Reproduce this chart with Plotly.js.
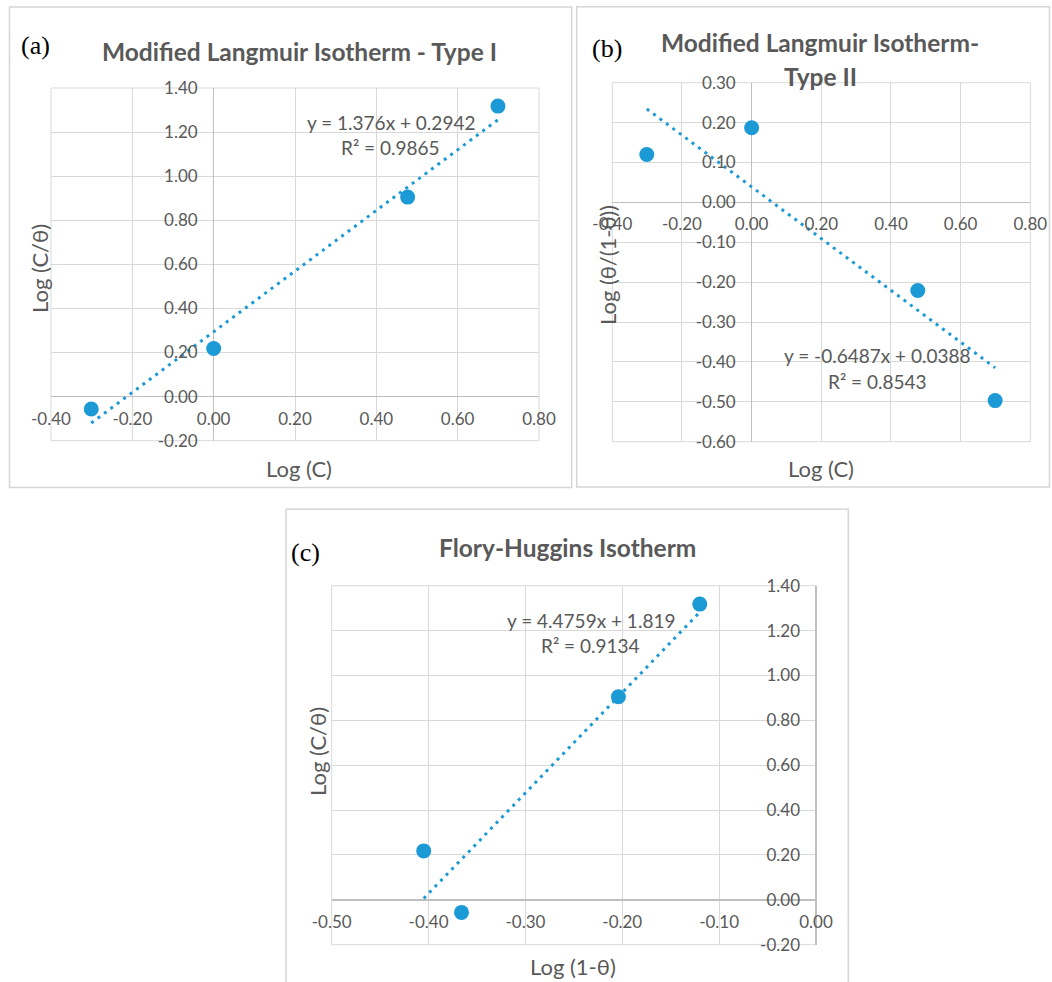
<!DOCTYPE html>
<html>
<head>
<meta charset="utf-8">
<script src="https://cdn.plot.ly/plotly-3.0.1.min.js"></script>
<style>
  html, body { margin: 0; padding: 0; background: #ffffff; }
  #chart { width: 1052px; height: 982px; }
</style>
</head>
<body>
<div id="chart"></div>
<script>
// ---- data ----
const logC = [-0.301, 0.000, 0.477, 0.699];                 // Log (C)
const logCOverTheta = [-0.056, 0.218, 0.905, 1.318];        // Log (C/θ)
const logThetaRatio = [0.120, 0.187, -0.221, -0.497];       // Log (θ/(1-θ))
const logOneMinusTheta = [-0.366, -0.405, -0.204, -0.120];  // Log (1-θ)

// fitted lines as reported on each panel: [slope, intercept]
const fitTypeI = [1.376, 0.2942];
const fitTypeII = [-0.6487, 0.0388];
const fitFH = [4.4759, 1.819];
const r2TypeI = "0.9865";
const r2TypeII = "0.8543";
const r2FH = "0.9134";

// tick values
const ticksLogC = [-0.40, -0.20, 0.00, 0.20, 0.40, 0.60, 0.80];
const ticksLogCOverTheta = [-0.20, 0.00, 0.20, 0.40, 0.60, 0.80, 1.00, 1.20, 1.40];
const ticksThetaRatio = [-0.60, -0.50, -0.40, -0.30, -0.20, -0.10, 0.00, 0.10, 0.20, 0.30];
const ticksOneMinusTheta = [-0.50, -0.40, -0.30, -0.20, -0.10, 0.00];

// titles
const titles = ["Modified Langmuir Isotherm - Type I", "Modified Langmuir Isotherm-", "Type II", "Flory-Huggins Isotherm"];

// ---- page geometry (pixels) ----
const W = 1052, H = 982;
const fx = p => p / W;
const fy = p => 1 - p / H;

const FONT = "Lato, 'Open Sans', sans-serif";
const GREY = "#595959";
const BLUE = "#1b9ad6";

function fmt(v) { return v.toFixed(2); }

// builds a pair of axes whose tick labels sit on the zero lines
function axes(xDomPx, yDomPx, xRange, yRange, xTicks, yTicks) {
  const xd = [fx(xDomPx[0]), fx(xDomPx[1])];
  const yd = [fy(yDomPx[1]), fy(yDomPx[0])];
  const xZero = xd[0] + (0 - xRange[0]) / (xRange[1] - xRange[0]) * (xd[1] - xd[0]);
  const yZero = yd[0] + (0 - yRange[0]) / (yRange[1] - yRange[0]) * (yd[1] - yd[0]);
  const common = {
    showgrid: true, gridcolor: "#d9d9d9", gridwidth: 1,
    zeroline: true, zerolinecolor: "#bfbfbf", zerolinewidth: 1.5,
    showline: false, ticks: "", fixedrange: true, tickangle: 0,
    tickfont: { family: FONT, size: 17, color: GREY },
    anchor: "free"
  };
  return {
    x: Object.assign({}, common, {
      domain: xd, range: xRange, position: yZero,
      tickvals: xTicks, ticktext: xTicks.map(fmt), ticklabelstandoff: 10
    }),
    y: Object.assign({}, common, {
      domain: yd, range: yRange, position: xZero,
      tickvals: yTicks, ticktext: yTicks.map(fmt), ticklabelstandoff: 16
    })
  };
}

const A = axes([51, 539], [88, 440.7], [-0.4, 0.8], [-0.2, 1.4], ticksLogC, ticksLogCOverTheta);
const B = axes([612.3, 1030.3], [82.7, 441.7], [-0.4, 0.8], [-0.6, 0.3], ticksLogC, ticksThetaRatio);
const C = axes([331.7, 816], [585.7, 944.7], [-0.5, 0.0], [-0.2, 1.4], ticksOneMinusTheta, ticksLogCOverTheta);

function points(xs, ys, xa, ya) {
  return { x: xs, y: ys, xaxis: xa, yaxis: ya, type: "scatter", mode: "markers",
           marker: { color: BLUE, size: 15 }, hoverinfo: "skip", showlegend: false };
}
function fitLine(xs, fit, xa, ya) {
  const x0 = Math.min(...xs), x1 = Math.max(...xs);
  return { x: [x0, x1], y: [fit[0] * x0 + fit[1], fit[0] * x1 + fit[1]], xaxis: xa, yaxis: ya,
           type: "scatter", mode: "lines",
           line: { color: BLUE, width: 3, dash: "3px,5px" }, hoverinfo: "skip", showlegend: false };
}

const data = [
  fitLine(logC, fitTypeI, "x", "y"),
  points(logC, logCOverTheta, "x", "y"),
  fitLine(logC, fitTypeII, "x2", "y2"),
  points(logC, logThetaRatio, "x2", "y2"),
  fitLine(logOneMinusTheta, fitFH, "x3", "y3"),
  points(logOneMinusTheta, logCOverTheta, "x3", "y3")
];

function eqText(fit) {
  const b = fit[1] < 0 ? " - " + Math.abs(fit[1]) : " + " + fit[1];
  return "y = " + fit[0] + "x" + b;
}

function paperText(text, xp, yp, size, opts) {
  return Object.assign({
    text: text, xref: "paper", yref: "paper", x: fx(xp), y: fy(yp),
    xanchor: "center", yanchor: "middle", showarrow: false,
    font: { family: FONT, size: size, color: GREY }
  }, opts || {});
}
function dataText(text, xa, ya, x, y) {
  return { text: text, xref: xa, yref: ya, x: x, y: y, xanchor: "center", yanchor: "middle",
           showarrow: false, font: { family: FONT, size: 19, color: GREY } };
}
const serif = { font: { family: "'Liberation Serif', 'DejaVu Serif', serif", size: 26, color: "#000000" } };
const bold = size => ({ font: { family: FONT, size: size, color: GREY, weight: 700 } });

const annotations = [
  // panel letters
  paperText("(a)", 35, 45, 26, serif),
  paperText("(b)", 607, 49, 26, serif),
  paperText("(c)", 305, 552, 26, serif),
  // chart titles
  paperText(titles[0], 299, 52, 24.5, bold(24.5)),
  paperText(titles[1], 820, 43, 24.5, bold(24.5)),
  paperText(titles[2], 820, 77, 24.5, bold(24.5)),
  paperText(titles[3], 567, 547, 24.5, bold(24.5)),
  // axis titles
  paperText("Log (C)", 299, 468, 22),
  paperText("Log (C/θ)", 39, 269, 22, { textangle: -90 }),
  paperText("Log (C)", 821, 468, 22),
  paperText("Log (θ/(1-θ))", 607, 265, 22, { textangle: -90 }),
  paperText("Log (1-θ)", 573, 966, 22),
  paperText("Log (C/θ)", 317, 752, 22, { textangle: -90 }),
  // fitted equations
  dataText(eqText(fitTypeI), "x", "y", 0.435, 1.245),
  dataText("R² = " + r2TypeI, "x", "y", 0.435, 1.132),
  dataText(eqText(fitTypeII), "x2", "y2", 0.362, -0.385),
  dataText("R² = " + r2TypeII, "x2", "y2", 0.362, -0.450),
  dataText(eqText(fitFH), "x3", "y3", -0.2323, 1.246),
  dataText("R² = " + r2FH, "x3", "y3", -0.2323, 1.132)
];

function frame(x0, y0, x1, y1) {
  return { type: "rect", xref: "paper", yref: "paper", x0: fx(x0), x1: fx(x1), y0: fy(y1), y1: fy(y0),
           line: { color: "#d6d6d6", width: 1.5 }, fillcolor: "rgba(0,0,0,0)", layer: "below" };
}
function plotBox(xa, ya) {
  return { type: "rect", xref: xa + " domain", yref: ya + " domain", x0: 0, x1: 1, y0: 0, y1: 1,
           line: { color: "#d9d9d9", width: 1 }, fillcolor: "rgba(0,0,0,0)", layer: "below" };
}

const layout = {
  width: W, height: H,
  margin: { l: 0, r: 0, t: 0, b: 0 },
  paper_bgcolor: "#ffffff", plot_bgcolor: "rgba(0,0,0,0)",
  showlegend: false, hovermode: false,
  xaxis: A.x, yaxis: A.y,
  xaxis2: B.x, yaxis2: B.y,
  xaxis3: C.x, yaxis3: C.y,
  annotations: annotations,
  shapes: [
    frame(9.5, 7, 571.7, 487.5),
    frame(576.7, 6.7, 1049.5, 487),
    frame(286, 509.3, 848.3, 1000),
    plotBox("x", "y"), plotBox("x2", "y2"), plotBox("x3", "y3")
  ]
};

Plotly.newPlot("chart", data, layout, { staticPlot: true, displayModeBar: false });
</script>
</body>
</html>
